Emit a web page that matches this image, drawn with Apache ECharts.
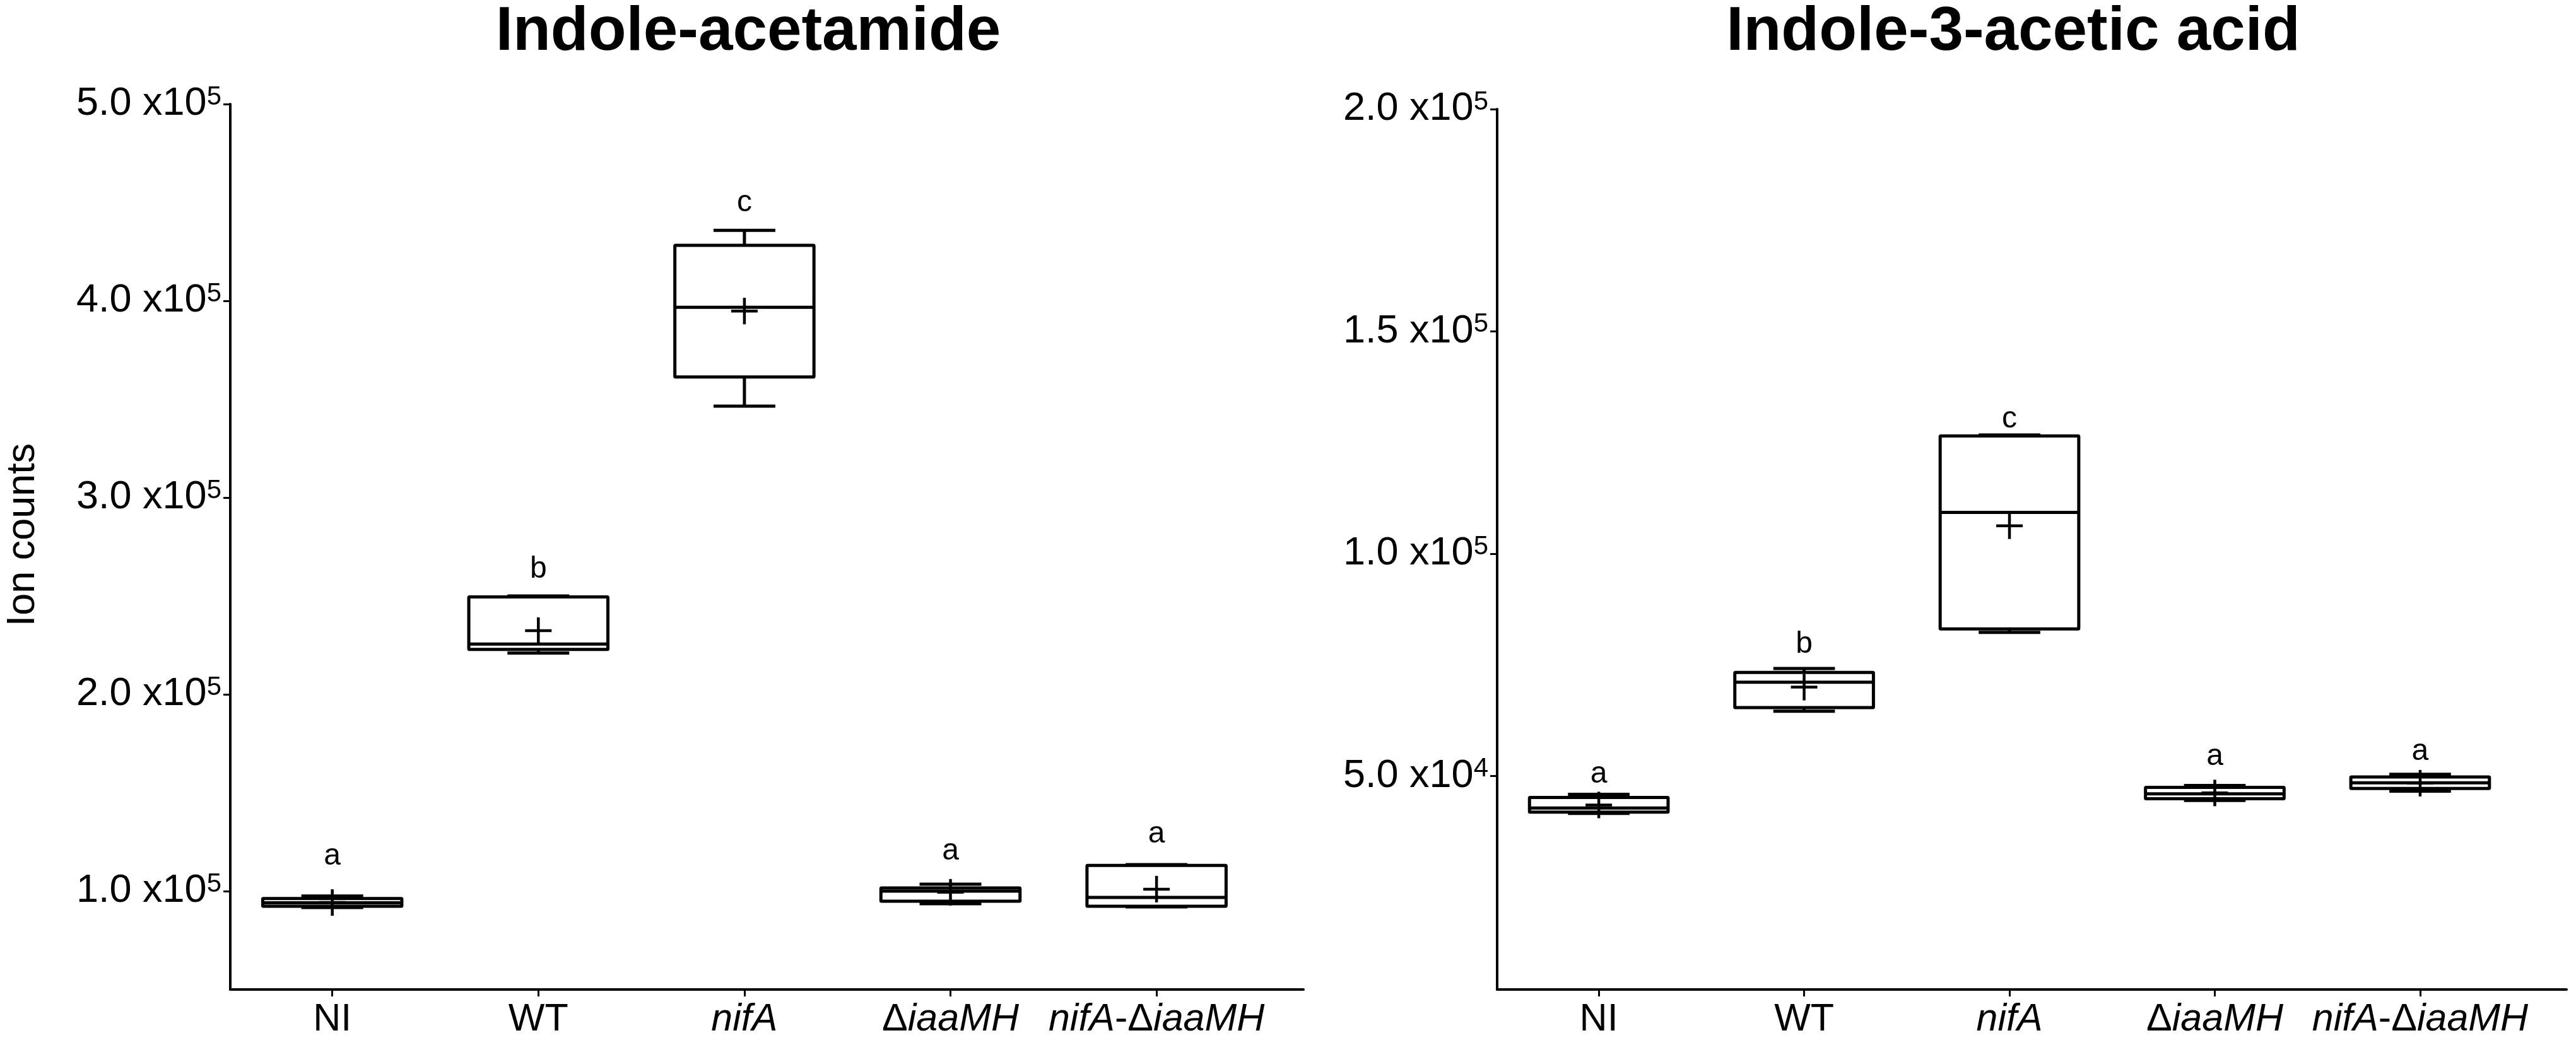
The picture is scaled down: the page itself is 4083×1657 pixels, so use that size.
<!DOCTYPE html>
<html>
<head>
<meta charset="utf-8">
<script src="https://cdn.jsdelivr.net/npm/echarts@6/dist/echarts.min.js"></script>
<style>
html,body{margin:0;padding:0;background:#fff;}
#chart{width:4083px;height:1657px;}
</style>
</head>
<body>
<div id="chart"></div>
<script>
// ---------- data ----------
const categories = ['NI', 'WT', 'nifA', 'ΔiaaMH', 'nifA-ΔiaaMH'];

// Indole-acetamide (left panel)
const iamMin    = [91700, 221000, 346500, 93600, 92000];
const iamQ1     = [92300, 222800, 361300, 94900, 92300];
const iamMedian = [94100, 225600, 396700, 100000, 96800];
const iamQ3     = [96250, 249500, 428200, 101600, 113100];
const iamMax    = [97500, 250000, 435800, 103500, 113500];
const iamMean   = [94200, 232400, 394800, 99400, 101000];
const iamLetters = ['a', 'b', 'c', 'a', 'a'];
const iamLetterY = [117600, 263500, 449700, 120200, 128800];
const iamTicks = [100000, 200000, 300000, 400000, 500000];

// Indole-3-acetic acid (right panel)
const iaaMin    = [41600, 64600, 82300, 44500, 46600];
const iaaQ1     = [41900, 65400, 83100, 44900, 47200];
const iaaMedian = [42800, 71100, 109300, 46000, 48500];
const iaaQ3     = [45200, 73300, 126500, 47450, 49800];
const iaaMax    = [45900, 74200, 126700, 47900, 50400];
const iaaMean   = [43500, 70000, 106300, 46200, 48400];
const iaaLetters = ['a', 'b', 'c', 'a', 'a'];
const iaaLetterY = [50400, 79600, 130200, 54400, 55500];
const iaaTicks = [50000, 100000, 150000, 200000];

const catTicks = [0, 1, 2, 3, 4];

// ---------- styles ----------
const FONT = '"Liberation Sans", Arial, Helvetica, sans-serif';
const LW = 5;

function buildData(mn, q1, md, q3, mx, mean, ly) {
  return categories.map((c, i) => [i, mn[i], q1[i], md[i], q3[i], mx[i], mean[i], ly[i]]);
}

function makeRender(letters) {
  return function (params, api) {
    const i = api.value(0);
    const c = api.coord([i, api.value(3)]);
    const x = c[0];
    const y = v => api.coord([i, v])[1];
    const half = api.size([0.3375, 0])[0];
    const capHalf = api.size([0.15, 0])[0];
    const plus = 21;
    const yMin = y(api.value(1)), yQ1 = y(api.value(2)), yMed = y(api.value(3));
    const yQ3 = y(api.value(4)), yMax = y(api.value(5)), yMean = y(api.value(6));
    const yL = y(api.value(7));
    const ls = { stroke: '#000', lineWidth: LW, fill: null };
    return {
      type: 'group',
      children: [
        { type: 'line', shape: { x1: x, y1: yQ1, x2: x, y2: yMin }, style: ls },
        { type: 'line', shape: { x1: x, y1: yQ3, x2: x, y2: yMax }, style: ls },
        { type: 'line', shape: { x1: x - capHalf, y1: yMin, x2: x + capHalf, y2: yMin }, style: ls },
        { type: 'line', shape: { x1: x - capHalf, y1: yMax, x2: x + capHalf, y2: yMax }, style: ls },
        { type: 'rect', shape: { x: x - half, y: yQ3, width: 2 * half, height: yQ1 - yQ3, r: 1 },
          style: { stroke: '#000', lineWidth: LW, fill: 'rgba(255,255,255,0)', lineJoin: 'round' } },
        { type: 'line', shape: { x1: x - half, y1: yMed, x2: x + half, y2: yMed }, style: ls },
        { type: 'line', shape: { x1: x - plus, y1: yMean, x2: x + plus, y2: yMean }, style: { stroke: '#000', lineWidth: 4.5 } },
        { type: 'line', shape: { x1: x, y1: yMean - plus, x2: x, y2: yMean + plus }, style: { stroke: '#000', lineWidth: 4.5 } },
        { type: 'text', style: { text: letters[params.dataIndex], x: x, y: yL,
            align: 'center', verticalAlign: 'middle', fontSize: 48, fontFamily: FONT, fill: '#000' } }
      ]
    };
  };
}

function yLabel(v) {
  const e = Math.floor(Math.log10(v) + 1e-9);
  const m = (v / Math.pow(10, e)).toFixed(1);
  return '{m|' + m + ' x10}{s|' + e + '}';
}

const xRich = {
  n: { fontSize: 61, fontFamily: FONT, color: '#000', fontStyle: 'normal' },
  i: { fontSize: 61, fontFamily: FONT, color: '#000', fontStyle: 'italic' }
};
function xLabel(v) {
  const idx = Math.round(v);
  const name = categories[idx];
  if (name === 'NI' || name === 'WT') return '{n|' + name + '}';
  if (name === 'nifA') return '{i|nifA}';
  if (name === 'ΔiaaMH') return '{n|Δ}{i|iaaMH}';
  if (name === 'nifA-ΔiaaMH') return '{i|nifA}{n|-Δ}{i|iaaMH}';
  return '';
}

function xAxisCfg(gridIndex) {
  return {
    type: 'value', gridIndex: gridIndex, min: -0.495, max: 4.713,
    splitLine: { show: false },
    axisLine: { show: true, onZero: false, lineStyle: { color: '#000', width: 4 } },
    axisTick: { show: true, customValues: catTicks, length: 11, lineStyle: { color: '#000', width: 3 } },
    axisLabel: { customValues: catTicks, formatter: xLabel, rich: xRich, margin: 18, color: '#000' }
  };
}

function yAxisCfg(gridIndex, min, max, ticks) {
  return {
    type: 'value', gridIndex: gridIndex, min: min, max: max,
    splitLine: { show: false },
    axisLine: { show: true, onZero: false, lineStyle: { color: '#000', width: 4 } },
    axisTick: { show: true, customValues: ticks, length: 11, lineStyle: { color: '#000', width: 3 } },
    axisLabel: {
      customValues: ticks, formatter: yLabel, margin: 14, color: '#000',
      rich: {
        m: { fontSize: 63, fontFamily: FONT, color: '#000', lineHeight: 64 },
        s: { fontSize: 42, fontFamily: FONT, color: '#000', lineHeight: 42, verticalAlign: 'top' }
      }
    }
  };
}

const chart = echarts.init(document.getElementById('chart'), null, { renderer: 'canvas' });
chart.setOption({
  backgroundColor: '#fff',
  animation: false,
  title: [
    { text: 'Indole-acetamide', left: 1181, top: -2, textAlign: 'center',
      textStyle: { fontSize: 98, fontWeight: 'bold', fontFamily: FONT, color: '#000' } },
    { text: 'Indole-3-acetic acid', left: 3186, top: -2, textAlign: 'center',
      textStyle: { fontSize: 98, fontWeight: 'bold', fontFamily: FONT, color: '#000' } }
  ],
  graphic: [
    { type: 'text', x: 37, y: 848, rotation: Math.PI / 2,
      style: { text: 'Ion counts', align: 'center', verticalAlign: 'middle',
        fontSize: 63, fontFamily: FONT, fill: '#000' } }
  ],
  grid: [
    { left: 365, top: 165, width: 1701, height: 1404 },
    { left: 2373, top: 173, width: 1695, height: 1396 }
  ],
  xAxis: [xAxisCfg(0), xAxisCfg(1)],
  yAxis: [
    yAxisCfg(0, 50000, 500000, iamTicks),
    yAxisCfg(1, 2000, 200000, iaaTicks)
  ],
  series: [
    { type: 'custom', name: 'Indole-acetamide', xAxisIndex: 0, yAxisIndex: 0,
      renderItem: makeRender(iamLetters), clip: false,
      encode: { x: 0, y: [1, 2, 3, 4, 5] },
      data: buildData(iamMin, iamQ1, iamMedian, iamQ3, iamMax, iamMean, iamLetterY) },
    { type: 'custom', name: 'Indole-3-acetic acid', xAxisIndex: 1, yAxisIndex: 1,
      renderItem: makeRender(iaaLetters), clip: false,
      encode: { x: 0, y: [1, 2, 3, 4, 5] },
      data: buildData(iaaMin, iaaQ1, iaaMedian, iaaQ3, iaaMax, iaaMean, iaaLetterY) }
  ]
});
</script>
</body>
</html>
